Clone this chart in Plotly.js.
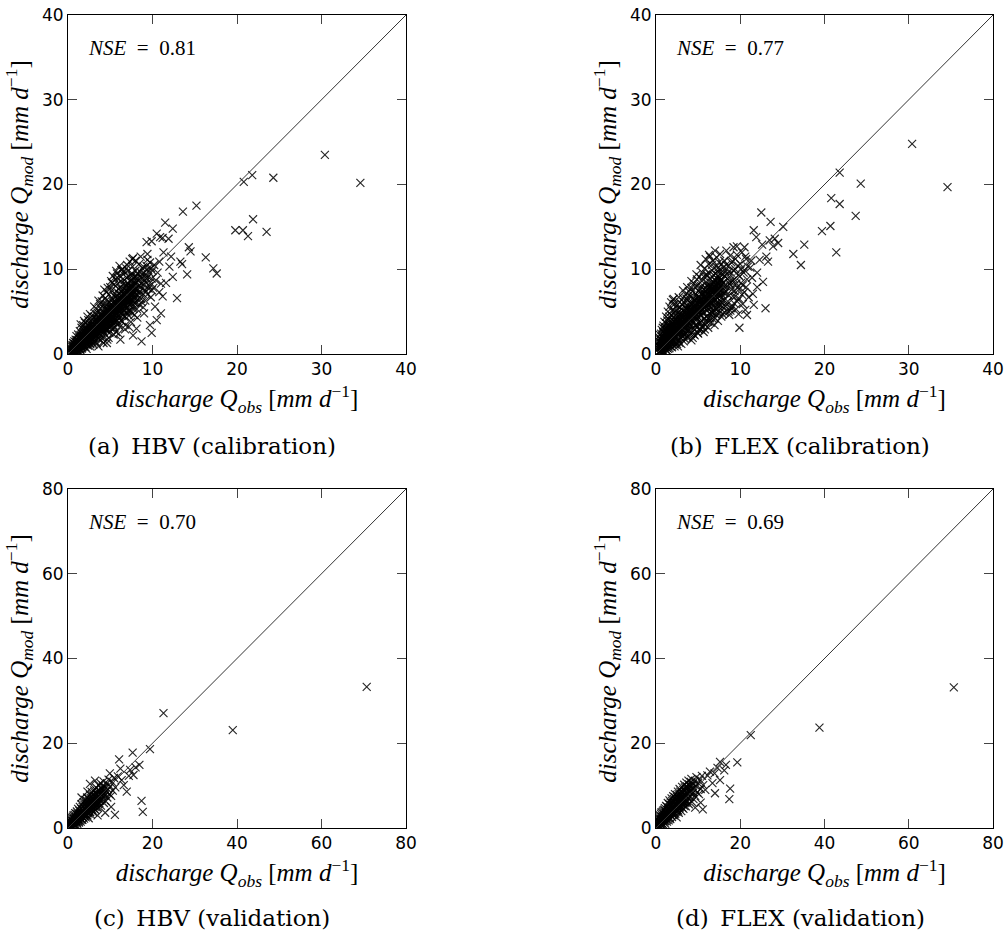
<!DOCTYPE html>
<html>
<head>
<meta charset="utf-8">
<script src="https://cdn.plot.ly/plotly-3.0.1.min.js"></script>
<style>
html,body{margin:0;padding:0;background:#fff;}
#chart{width:1008px;height:938px;}
</style>
</head>
<body>
<div id="chart"></div>
<script>
const hbvCal = [
[0.35,0.15],[0.42,0.4],[0.5,0.2],[0.55,0.65],[0.6,0.1],[0.65,0.45],[0.7,0.9],[0.75,0.3],[0.8,0.6],[0.85,1.15],[0.9,0.25],[0.95,0.8],[1.0,0.5],[1.05,1.3],[1.1,0.95],[1.15,0.35],[1.2,1.6],[1.25,0.7],[1.3,1.1],[1.35,2.0],[1.4,0.5],[1.45,1.45],[1.5,0.9],[1.55,1.8],[1.6,2.4],[1.65,0.65],[1.7,1.25],[1.75,2.1],[1.8,1.6],[1.85,0.9],[1.9,2.8],[1.95,1.35],
[2.0,1.9],[2.05,0.85],[2.1,2.5],[2.15,1.2],[2.2,3.2],[2.25,1.65],[2.3,2.2],[2.35,1.0],[2.4,2.85],[2.45,1.45],[2.5,3.6],[2.55,1.9],[2.6,2.4],[2.65,1.15],[2.7,3.1],[2.75,1.7],[2.8,2.1],[2.85,4.1],[2.9,1.35],[2.95,2.65],
[3.0,3.3],[3.05,1.9],[3.1,2.4],[3.15,4.4],[3.2,1.5],[3.25,2.9],[3.3,3.7],[3.35,2.15],[3.4,1.25],[3.45,3.1],[3.5,4.9],[3.55,2.6],[3.6,1.8],[3.65,3.5],[3.7,4.2],[3.75,2.3],[3.8,2.95],[3.85,5.4],[3.9,1.6],[3.95,3.8],
[4.0,2.7],[4.05,4.5],[4.1,3.3],[4.15,2.0],[4.2,5.8],[4.25,3.0],[4.3,3.9],[4.35,2.4],[4.4,4.8],[4.45,3.5],[4.5,6.3],[4.55,2.8],[4.6,4.2],[4.65,1.7],[4.7,5.2],[4.75,3.2],[4.8,3.8],[4.85,7.0],[4.9,2.5],[4.95,4.6],
[5.0,5.6],[5.05,3.4],[5.1,4.0],[5.15,7.5],[5.2,2.9],[5.25,4.9],[5.3,6.1],[5.35,3.7],[5.4,4.4],[5.45,8.2],[5.5,3.1],[5.55,5.3],[5.6,6.7],[5.65,4.1],[5.7,2.6],[5.75,5.8],[5.8,4.7],[5.85,9.0],[5.9,3.6],[5.95,6.3],
[6.0,5.0],[6.05,7.1],[6.1,4.3],[6.15,3.2],[6.2,5.6],[6.25,8.6],[6.3,6.5],[6.35,4.8],[6.4,3.8],[6.45,7.6],[6.5,5.3],[6.55,9.4],[6.6,6.0],[6.65,4.4],[6.7,7.0],[6.75,2.9],[6.8,5.8],[6.85,8.2],[6.9,6.6],[6.95,4.9],
[7.0,7.4],[7.05,5.5],[7.1,9.8],[7.15,6.2],[7.2,4.5],[7.25,8.0],[7.3,6.8],[7.35,5.1],[7.4,7.7],[7.45,3.8],[7.5,8.7],[7.55,6.0],[7.6,7.2],[7.65,10.3],[7.7,5.6],[7.75,8.2],[7.8,6.6],[7.85,4.6],[7.9,9.1],[7.95,7.0],
[8.0,6.1],[8.05,8.4],[8.1,7.5],[8.15,5.3],[8.2,9.5],[8.3,6.9],[8.35,8.0],[8.4,10.6],[8.45,5.8],[8.5,7.4],[8.6,9.0],[8.65,6.5],[8.7,8.3],[8.8,10.1],[8.85,7.1],[8.9,5.5],[8.95,8.8],
[9.0,9.6],[9.1,7.6],[9.15,6.3],[9.2,8.5],[9.3,10.4],[9.4,7.0],[9.5,9.1],[9.6,8.0],[9.7,10.8],[9.8,6.7],[9.9,8.9],[10.0,9.8],[10.1,7.8],[10.2,10.5],[10.4,8.7],[10.6,9.6],[10.8,10.9],[11.0,8.3],
[0.45,0.9],[0.6,1.3],[0.75,1.5],[0.9,1.7],[1.0,2.1],[1.1,0.15],[1.2,2.3],[1.3,0.3],[1.4,2.7],[1.5,0.55],[1.6,3.1],[1.7,0.8],[1.8,3.4],[2.0,3.7],[2.2,0.6],[2.4,4.0],[2.6,0.9],[2.8,4.5],[3.0,1.1],[3.2,4.8],[3.4,5.3],[3.6,0.9],[3.8,5.9],[4.0,6.2],[4.2,1.3],[4.4,6.6],[4.6,7.3],[4.8,1.9],[5.0,7.9],[5.2,8.4],[5.4,2.3],[5.6,8.8],[5.8,9.5],[6.0,2.4],[6.2,9.1],[6.4,10.0],[6.6,9.7],[6.8,3.4],[7.0,10.5],[7.2,3.2],[7.6,11.2],[8.0,11.0],[8.2,4.3],[8.6,11.5],[9.0,4.8],[9.4,11.8],
[1.25,1.85],[1.55,1.05],[1.85,2.3],[2.15,2.75],[2.45,2.05],[2.75,3.45],[3.05,2.75],[3.35,4.1],[3.65,3.0],[3.95,4.7],[4.25,4.2],[4.55,5.4],[4.85,4.1],[5.15,5.9],[5.45,5.0],[5.75,6.9],[6.05,6.0],[6.35,7.3],[6.65,6.4],[6.95,8.0],[7.25,7.2],[7.55,9.2],[7.85,7.9],[8.15,8.9],[8.45,8.1],[8.75,9.4],
[30.4,23.5],[34.6,20.2],[24.3,20.8],[20.8,20.3],[21.8,21.1],[21.9,15.9],[19.8,14.6],[20.7,14.6],[21.3,13.9],[23.5,14.4],[16.3,11.4],[17.2,10.1],[17.6,9.5],[15.2,17.5],[13.6,16.8],[11.5,15.5],[12.4,14.8],[11.9,13.6],[10.5,14.2],[9.9,13.3],[14.3,12.6],[14.5,12.1],[13.3,10.9],[13.5,10.6],[14.1,9.4],[12.4,9.1],[12.9,6.6],[11.2,6.8],[11.0,4.8],[10.5,4.0],[9.7,3.4],[9.9,2.5],[8.7,1.5],[8.1,3.0],[7.7,2.2],[6.2,1.7],[4.6,1.3],[10.9,13.8],[11.3,12.0],[12.0,10.3],[11.6,8.4],[10.3,5.6],[9.4,11.1],[7.7,11.3],[5.7,9.8],[12.2,11.5],[10.8,7.3],[9.3,13.2],[11.2,13.7]
];
const hbvCalDense = [
[0.33,0.55],[0.48,0.05],[0.52,1.05],[0.58,0.35],[0.63,0.82],[0.68,0.18],[0.72,1.22],[0.78,0.72],[0.83,0.12],[0.88,0.95],[0.93,1.45],[0.97,0.42],[1.03,0.78],[1.08,1.62],[1.13,1.12],[1.17,0.58],[1.22,1.38],[1.28,0.92],[1.33,1.72],[1.37,0.68],[1.42,1.18],[1.47,2.22],[1.52,1.32],[1.57,0.78],[1.62,1.68],[1.67,2.05],[1.72,1.02],[1.77,1.48],[1.82,2.62],[1.87,1.88],[1.92,1.15],[1.97,2.12],
[2.03,1.42],[2.08,2.35],[2.13,1.78],[2.18,2.95],[2.23,1.28],[2.28,2.55],[2.33,1.92],[2.38,3.35],[2.43,2.38],[2.48,1.62],[2.53,2.78],[2.58,3.25],[2.63,2.02],[2.68,2.62],[2.73,1.48],[2.78,3.02],[2.83,2.28],[2.88,3.72],[2.93,2.82],[2.98,1.95],
[3.03,2.38],[3.08,3.52],[3.13,2.92],[3.18,1.98],[3.23,3.22],[3.28,2.52],[3.33,4.02],[3.38,3.12],[3.43,2.28],[3.48,3.78],[3.53,2.92],[3.58,4.42],[3.63,2.48],[3.68,3.32],[3.73,2.08],[3.78,4.02],[3.83,3.42],[3.88,2.62],[3.93,4.52],[3.98,3.18],
[4.03,3.72],[4.08,2.92],[4.13,4.82],[4.18,3.48],[4.23,2.62],[4.28,4.42],[4.33,5.32],[4.38,3.22],[4.43,4.02],[4.48,2.98],[4.53,4.92],[4.58,3.72],[4.63,5.82],[4.68,4.32],[4.73,2.92],[4.78,5.02],[4.83,3.52],[4.88,6.12],[4.93,4.22],[4.98,3.22],
[5.03,4.62],[5.08,5.32],[5.13,3.82],[5.18,6.52],[5.23,4.32],[5.28,5.62],[5.33,3.42],[5.38,4.92],[5.43,6.92],[5.48,4.12],[5.53,5.52],[5.58,3.72],[5.63,6.22],[5.68,4.82],[5.73,7.42],[5.78,5.22],[5.83,3.92],[5.88,6.52],[5.93,5.12],[5.98,7.72],
[6.03,5.52],[6.08,4.62],[6.13,6.62],[6.18,7.82],[6.23,5.12],[6.28,6.02],[6.33,3.92],[6.38,6.92],[6.43,5.62],[6.48,8.22],[6.53,4.62],[6.58,7.22],[6.63,5.82],[6.68,8.72],[6.73,6.32],[6.78,4.42],[6.83,7.52],[6.88,5.42],[6.93,9.02],[6.98,6.22],
[7.03,6.72],[7.08,8.32],[7.13,5.02],[7.18,7.62],[7.23,9.22],[7.28,5.82],[7.33,7.02],[7.38,8.62],[7.43,6.42],[7.48,4.92],[7.53,7.92],[7.58,9.52],[7.63,6.32],[7.68,7.52],[7.73,5.32],[7.78,8.92],[7.83,7.22],[7.88,6.02],[7.93,8.32],[7.98,9.82],
[8.03,7.72],[8.13,9.12],[8.23,6.42],[8.33,8.62],[8.43,7.22],[8.53,9.72],[8.63,7.92],[8.73,6.12],[8.83,8.92],[8.93,10.32],[9.03,8.12],[9.13,9.32],[9.23,7.32],[9.33,8.92],[9.43,10.02],[9.53,7.72],[9.63,9.62],[9.73,8.42],[9.83,10.12],[9.93,7.52],
[3.1,5.6],[3.6,6.3],[4.1,6.9],[4.3,7.6],[4.7,7.8],[5.1,8.6],[5.3,9.2],[5.9,8.3],[6.3,9.9],[6.1,10.4],[6.9,10.1],[7.3,10.9],[2.6,4.7],[2.3,4.4],[1.9,3.9],[1.5,3.5]
];
const hbvCalCore = [
[0.4,0.62],[0.56,0.48],[0.62,0.98],[0.71,0.58],[0.77,1.02],[0.86,0.48],[0.91,1.12],[0.99,1.28],[1.06,0.62],[1.11,1.42],[1.19,0.88],[1.24,1.58],[1.31,1.32],[1.39,0.98],[1.44,1.78],[1.51,1.18],[1.58,2.08],[1.64,1.42],[1.69,1.82],[1.76,1.22],[1.81,2.02],[1.88,1.42],[1.94,2.42],[2.02,1.68],[2.09,2.12],[2.16,1.52],[2.21,2.42],[2.27,2.02],[2.34,2.72],[2.41,1.82],[2.47,2.52],[2.54,2.18],[2.61,2.92],[2.67,1.98],[2.74,2.72],[2.81,2.48],[2.87,3.22],[2.94,2.32],[3.01,2.98],[3.09,2.62],[3.16,3.42],[3.22,2.72],[3.29,3.32],[3.36,2.72],[3.42,3.72],[3.49,3.22],[3.56,4.12],[3.62,3.42],[3.69,2.82],[3.76,3.62],[3.82,4.32],[3.89,3.12],[3.96,4.02],[4.04,3.22],[4.11,4.22],[4.19,3.82],[4.26,4.82],[4.34,3.62],[4.41,4.42],[4.49,3.92],[4.57,5.12],[4.64,3.52],[4.72,4.62],[4.79,4.12],[4.87,5.42],[4.94,3.92],[5.02,5.02],[5.09,4.42],[5.17,5.52],[5.24,4.02],[5.32,5.22],[5.39,4.72],[5.47,5.92],[5.54,4.52],[5.62,5.42],[5.69,6.02],[5.77,4.92],[5.84,5.92],[5.92,4.52],[5.99,5.72],[6.07,6.42],[6.14,5.32],[6.22,6.22],[6.29,5.52],[6.37,6.72],[6.44,5.22],[6.52,6.32],[6.59,7.02],[6.67,5.62],[6.74,6.82],[6.82,6.12],[6.89,7.22],[6.97,5.82],[7.04,6.42],[7.12,7.32],[7.19,6.52],[7.27,7.72],[7.34,6.22],[7.42,7.22],[7.49,8.02],[7.57,6.82],[7.64,7.92],[7.72,7.02],[7.79,8.42],[7.87,6.72],[7.94,7.62]
];

const flexCal = [
[0.3,0.2],[0.4,0.8],[0.5,0.4],[0.55,1.4],[0.6,0.1],[0.65,0.9],[0.7,2.0],[0.75,0.5],[0.8,1.3],[0.85,2.6],[0.9,0.3],[0.95,1.8],[1.0,0.8],[1.05,3.0],[1.1,1.4],[1.15,0.5],[1.2,2.3],[1.25,3.6],[1.3,1.0],[1.35,1.9],[1.4,2.9],[1.45,0.6],[1.5,4.1],[1.55,1.5],[1.6,2.5],[1.65,3.4],[1.7,0.9],[1.75,2.0],[1.8,4.6],[1.85,1.2],[1.9,3.0],[1.95,2.3],
[2.0,3.9],[2.05,1.5],[2.1,5.2],[2.15,2.6],[2.2,0.9],[2.25,3.4],[2.3,4.5],[2.35,1.9],[2.4,2.9],[2.45,5.7],[2.5,1.2],[2.55,3.8],[2.6,2.3],[2.65,4.9],[2.7,1.6],[2.75,3.2],[2.8,6.1],[2.85,2.6],[2.9,4.2],[2.95,1.9],
[3.0,5.3],[3.05,3.0],[3.1,2.1],[3.15,4.6],[3.2,6.6],[3.25,3.6],[3.3,1.5],[3.35,5.0],[3.4,2.6],[3.45,4.1],[3.5,7.0],[3.55,3.2],[3.6,5.7],[3.65,2.0],[3.7,4.5],[3.75,6.3],[3.8,3.7],[3.85,2.8],[3.9,7.4],[3.95,5.1],
[4.0,4.0],[4.05,6.0],[4.1,2.4],[4.15,3.3],[4.2,7.8],[4.25,5.2],[4.3,4.4],[4.35,1.9],[4.4,6.6],[4.45,3.7],[4.5,8.3],[4.55,5.6],[4.6,2.9],[4.65,4.8],[4.7,7.1],[4.75,3.4],[4.8,6.1],[4.85,8.8],[4.9,4.2],[4.95,2.5],
[5.0,5.4],[5.05,7.4],[5.1,3.6],[5.15,9.1],[5.2,6.3],[5.25,4.6],[5.3,2.9],[5.35,8.0],[5.4,5.8],[5.45,3.9],[5.5,9.6],[5.55,6.9],[5.6,4.9],[5.65,2.6],[5.7,7.6],[5.75,5.4],[5.8,10.1],[5.85,3.4],[5.9,6.4],[5.95,8.5],
[6.0,4.4],[6.05,7.0],[6.1,9.2],[6.15,5.8],[6.2,3.1],[6.25,10.6],[6.3,7.9],[6.35,4.8],[6.4,6.3],[6.45,8.8],[6.5,3.7],[6.55,5.5],[6.6,9.9],[6.65,7.3],[6.7,4.2],[6.75,11.0],[6.8,6.7],[6.85,8.4],[6.9,5.1],[6.95,3.4],
[7.0,7.8],[7.05,9.5],[7.1,5.9],[7.15,4.6],[7.2,11.4],[7.25,8.5],[7.3,6.6],[7.35,3.9],[7.4,10.2],[7.45,7.2],[7.5,5.2],[7.55,9.0],[7.6,11.8],[7.65,6.2],[7.7,8.0],[7.75,4.4],[7.8,10.6],[7.85,7.0],[7.9,5.6],[7.95,9.4],
[8.0,8.4],[8.05,6.4],[8.1,11.0],[8.15,4.9],[8.2,9.8],[8.3,7.4],[8.35,12.2],[8.4,5.8],[8.5,8.9],[8.6,10.4],[8.65,6.9],[8.7,4.6],[8.8,11.6],[8.85,8.1],[8.9,9.6],[8.95,5.4],
[9.0,7.6],[9.1,10.9],[9.2,12.6],[9.25,6.0],[9.3,8.8],[9.4,10.0],[9.5,5.3],[9.6,11.7],[9.7,7.9],[9.8,9.3],[9.9,6.5],[10.0,10.6],[10.1,8.4],[10.2,12.0],[10.3,5.9],[10.4,9.6],[10.5,7.3],[10.7,11.2],[10.8,8.8],[11.0,6.7],[11.2,10.2],[11.4,9.0],
[0.45,1.9],[0.6,2.4],[0.8,3.1],[1.0,3.8],[1.2,4.4],[1.4,5.0],[1.6,5.6],[1.8,6.1],[2.0,6.4],[0.7,0.15],[1.0,0.2],[1.3,0.4],[1.6,0.7],[1.9,0.8],[2.3,1.1],[2.6,0.9],[3.0,1.2],[3.4,1.8],[3.8,2.0],[4.2,1.6],[4.6,2.2],[5.0,2.4],[5.4,3.2],[5.8,2.9],[6.2,3.8],[6.6,4.9],[7.0,4.2],[7.4,5.6],[7.8,6.1],[8.2,7.2],[8.6,5.0],[9.0,5.6],[9.4,6.8],[9.8,4.7],[10.2,7.0],
[1.15,1.15],[1.45,1.7],[1.75,1.45],[2.05,2.2],[2.35,2.6],[2.65,3.0],[2.95,3.4],[3.25,2.4],[3.55,4.0],[3.85,4.3],[4.15,4.8],[4.45,4.4],[4.75,5.2],[5.05,5.0],[5.35,6.0],[5.65,5.9],[5.95,6.6],[6.25,6.2],[6.55,7.0],[6.85,7.4],[7.15,7.4],[7.45,8.2],[7.75,8.8],[8.05,8.0],[8.45,9.4],[8.75,8.6],[2.2,5.9],[2.7,6.7],[3.2,7.5],[3.7,7.9],[4.2,8.6],[4.8,9.4],[5.3,10.5],[5.9,11.2],[6.4,11.5],[7.0,12.2],
[30.4,24.8],[34.6,19.7],[21.8,21.4],[24.3,20.1],[20.8,18.4],[21.8,17.7],[23.7,16.3],[19.7,14.5],[20.7,15.1],[21.4,12.0],[17.6,12.9],[16.3,11.8],[17.2,10.5],[12.5,16.7],[13.6,15.6],[15.1,15.0],[11.6,14.6],[11.9,13.8],[14.1,13.6],[14.5,13.1],[13.9,12.7],[13.1,11.5],[12.3,11.1],[13.3,10.9],[12.7,8.5],[12.0,7.9],[13.0,5.4],[11.6,5.8],[10.8,4.6],[9.9,3.1],[6.3,11.7],[2.1,6.5],[9.6,12.7],[10.5,12.6],[11.3,11.0],[12.0,9.6],[11.5,7.1],[10.6,5.2],[12.6,12.9],[13.5,13.4],[10.6,11.5]
];
const flexCalDense = [
[0.33,0.62],[0.38,1.45],[0.43,0.28],[0.48,2.25],[0.53,0.92],[0.58,1.72],[0.63,0.45],[0.68,2.85],[0.73,1.12],[0.78,2.05],[0.83,0.62],[0.88,3.35],[0.93,1.52],[0.98,2.42],[1.03,0.95],[1.08,1.95],[1.13,3.15],[1.18,1.35],[1.23,2.72],[1.28,0.72],[1.33,3.95],[1.38,1.62],[1.43,2.42],[1.48,3.32],[1.53,1.05],[1.58,4.42],[1.63,1.95],[1.68,2.92],[1.73,3.82],[1.78,1.35],[1.83,2.55],[1.88,5.12],[1.93,1.72],[1.98,3.42],
[2.03,2.62],[2.08,4.32],[2.13,1.92],[2.18,3.02],[2.23,4.92],[2.28,2.22],[2.33,3.72],[2.38,1.42],[2.43,4.12],[2.48,2.82],[2.53,5.32],[2.58,1.82],[2.63,3.52],[2.68,2.52],[2.73,4.62],[2.78,1.32],[2.83,3.92],[2.88,5.52],[2.93,2.92],[2.98,4.52],
[3.03,3.82],[3.08,2.52],[3.13,5.82],[3.18,3.32],[3.23,4.32],[3.28,2.12],[3.33,6.12],[3.38,3.72],[3.43,2.92],[3.48,5.42],[3.53,4.62],[3.58,2.42],[3.63,6.52],[3.68,3.42],[3.73,5.22],[3.78,2.72],[3.83,4.82],[3.88,6.92],[3.93,3.32],[3.98,4.42],
[4.03,5.22],[4.08,3.62],[4.13,6.82],[4.18,4.62],[4.23,2.82],[4.28,5.82],[4.33,7.42],[4.38,3.92],[4.43,5.02],[4.48,2.32],[4.53,6.42],[4.58,4.32],[4.63,7.92],[4.68,3.42],[4.73,5.62],[4.78,4.72],[4.83,6.92],[4.88,3.12],[4.93,5.32],[4.98,8.12],
[5.03,4.32],[5.08,6.12],[5.13,2.82],[5.18,5.02],[5.23,7.72],[5.28,3.72],[5.33,6.52],[5.38,4.52],[5.43,8.62],[5.48,5.42],[5.53,3.32],[5.58,7.12],[5.63,5.82],[5.68,9.12],[5.73,4.22],[5.78,6.22],[5.83,7.82],[5.88,3.82],[5.93,5.62],[5.98,9.42],
[6.03,6.22],[6.08,5.12],[6.13,8.22],[6.18,4.22],[6.23,6.92],[6.28,9.52],[6.33,5.52],[6.38,7.62],[6.43,4.22],[6.48,6.52],[6.53,8.42],[6.58,5.02],[6.63,10.52],[6.68,6.02],[6.73,7.82],[6.78,4.82],[6.83,9.32],[6.88,6.32],[6.93,7.52],[6.98,5.42],
[7.03,8.72],[7.08,6.42],[7.13,10.32],[7.18,5.32],[7.23,7.42],[7.28,9.72],[7.33,5.92],[7.38,8.12],[7.43,6.82],[7.48,10.82],[7.53,4.82],[7.58,7.62],[7.63,8.72],[7.68,5.72],[7.73,9.92],[7.78,6.62],[7.83,8.32],[7.88,4.72],[7.93,7.82],[7.98,10.22],
[8.03,7.22],[8.13,9.22],[8.23,5.62],[8.33,10.52],[8.43,7.92],[8.53,6.22],[8.63,9.72],[8.73,8.32],[8.83,5.12],[8.93,10.82],[9.03,8.62],[9.13,6.82],[9.23,9.82],[9.33,7.42],[9.43,11.22],[9.53,8.32],[9.63,6.22],[9.73,10.42],[9.83,7.62],[9.93,9.12],[10.1,10.0],[10.3,8.1],[10.5,9.9],[10.7,7.9],[10.9,10.3]
];
const flexCalCore = [
[0.36,0.95],[0.44,1.25],[0.51,1.68],[0.57,0.72],[0.64,1.32],[0.71,1.62],[0.77,0.92],[0.84,1.78],[0.91,2.22],[0.97,1.18],[1.04,1.72],[1.11,2.52],[1.17,1.82],[1.24,2.12],[1.31,2.62],[1.37,1.32],[1.44,2.22],[1.51,3.02],[1.57,2.02],[1.64,2.72],[1.71,1.62],[1.77,3.22],[1.84,2.32],[1.91,3.62],[1.97,2.72],[2.04,3.22],[2.11,2.42],[2.17,3.82],[2.24,2.92],[2.31,4.02],[2.37,3.12],[2.44,3.52],[2.51,2.62],[2.57,4.32],[2.64,3.22],[2.71,3.82],[2.77,2.82],[2.84,4.72],[2.91,3.62],[2.97,4.12],[3.04,3.42],[3.11,4.32],[3.17,3.82],[3.24,5.12],[3.31,3.92],[3.37,4.52],[3.44,3.52],[3.51,4.92],[3.57,4.22],[3.64,5.32],[3.71,3.82],[3.77,4.62],[3.84,5.62],[3.91,4.22],[3.97,5.02],[4.04,4.52],[4.11,5.62],[4.17,4.12],[4.24,5.42],[4.31,4.82],[4.37,6.02],[4.44,4.52],[4.51,5.32],[4.57,6.32],[4.64,4.92],[4.71,5.82],[4.77,4.32],[4.84,5.92],[4.91,6.62],[4.97,5.12],[5.04,6.22],[5.11,4.82],[5.17,6.72],[5.24,5.52],[5.31,6.12],[5.37,7.12],[5.44,5.22],[5.51,6.42],[5.57,5.62],[5.64,7.22],[5.71,6.02],[5.77,6.82],[5.84,5.62],[5.91,7.42],[5.97,6.22],[6.04,7.62],[6.11,6.62],[6.17,7.22],[6.24,5.82],[6.31,7.82],[6.37,6.92],[6.44,7.42],[6.51,6.02],[6.57,8.02],[6.64,6.72],[6.71,7.52],[6.77,8.52],[6.84,6.52],[6.91,7.92],[6.97,8.72],[7.04,7.22],[7.11,8.22],[7.17,6.72],[7.24,8.92],[7.31,7.72],[7.37,9.22],[7.44,7.62],[7.51,8.42],[7.57,6.92],[7.64,9.52],[7.71,7.42],[7.77,8.62]
];

const hbvVal = [
[0.2,0.3],[0.3,0.9],[0.4,0.2],[0.5,1.4],[0.6,0.6],[0.7,1.9],[0.8,0.4],[0.9,1.1],[1.0,2.4],[1.1,0.7],[1.2,1.6],[1.3,3.0],[1.4,0.9],[1.5,2.1],[1.6,1.3],[1.7,3.5],[1.8,0.8],[1.9,2.6],
[2.0,1.6],[2.1,3.9],[2.2,1.0],[2.3,2.8],[2.4,4.5],[2.5,2.0],[2.6,1.3],[2.7,3.3],[2.8,5.0],[2.9,2.4],[3.0,1.5],[3.1,3.8],[3.2,5.6],[3.3,2.7],[3.4,1.9],[3.5,4.3],[3.6,3.1],[3.7,6.1],[3.8,2.2],[3.9,4.8],
[4.0,3.5],[4.1,6.6],[4.2,2.5],[4.3,5.2],[4.4,4.0],[4.5,7.2],[4.6,3.0],[4.7,5.7],[4.8,4.5],[4.9,2.3],[5.0,6.4],[5.1,3.8],[5.2,7.8],[5.3,5.0],[5.4,3.2],[5.5,6.0],[5.6,8.5],[5.7,4.4],[5.8,5.5],[5.9,7.0],
[6.0,3.7],[6.1,6.6],[6.2,8.9],[6.3,5.0],[6.4,7.5],[6.5,4.2],[6.6,6.0],[6.7,9.5],[6.8,5.4],[6.9,8.0],[7.0,6.9],[7.1,4.8],[7.2,10.1],[7.3,7.4],[7.4,5.9],[7.5,8.7],[7.6,6.4],[7.7,10.6],[7.8,5.3],[7.9,7.9],
[8.0,9.2],[8.1,6.8],[8.3,8.3],[8.4,11.0],[8.5,5.9],[8.6,7.6],[8.8,9.7],[8.9,6.4],[9.0,8.6],[9.2,10.5],[9.3,7.2],[9.5,9.1],[9.6,11.4],[9.8,8.0],[10.0,9.8],[10.2,7.6],[10.4,10.9],[10.6,8.8],[10.9,11.8],[11.2,9.6],
[70.7,33.3],[39.0,23.1],[22.6,27.1],[19.4,18.6],[15.3,17.8],[12.1,16.2],[16.9,14.9],[15.5,12.5],[17.4,6.4],[17.7,3.8],[11.1,3.1],[13.9,8.6],[9.9,12.9],[5.2,10.4],[12.7,11.3],[14.7,13.7],[11.8,12.2],[13.2,10.1],[12.4,14.0],[7.0,3.0],[10.2,5.0],[8.8,3.6],[4.6,8.6],[3.2,7.2],[6.4,11.2],[14.4,12.3],[16.0,14.3]
];
const hbvValDense = [
[0.15,0.6],[0.25,0.15],[0.35,1.1],[0.45,0.5],[0.55,1.6],[0.65,0.25],[0.75,1.3],[0.85,2.1],[0.95,0.6],[1.05,1.5],[1.15,2.7],[1.25,1.0],[1.35,2.2],[1.45,1.5],[1.55,3.1],[1.65,0.6],[1.75,2.3],[1.85,1.6],[1.95,3.3],[2.05,2.3],[2.15,1.3],[2.25,3.4],[2.35,2.0],[2.45,3.0],[2.55,1.6],[2.65,4.1],[2.75,2.6],[2.85,3.6],[2.95,1.9],[3.05,2.9],[3.15,4.5],[3.25,2.0],[3.35,3.5],[3.45,5.0],[3.55,2.6],[3.65,4.0],[3.75,3.2],[3.85,5.5],[3.95,2.8],[4.05,4.4],[4.15,3.3],[4.25,5.8],[4.35,3.0],[4.45,4.8],[4.55,6.4],[4.65,3.8],[4.75,5.2],[4.85,3.4],[4.95,6.9],[5.05,4.7],[5.15,5.6],[5.25,3.8],[5.35,7.1],[5.45,5.3],[5.55,4.2],[5.65,6.5],[5.75,7.8],[5.85,4.8],[5.95,6.0],[6.05,5.4],[6.15,7.6],[6.25,4.5],[6.35,6.3],[6.45,8.2],[6.55,5.6],[6.65,7.0],[6.75,4.9],[6.85,8.7],[6.95,6.3],[7.05,7.8],[7.15,5.6],[7.35,8.9],[7.45,6.8],[7.65,8.1],[7.85,9.4],[8.05,7.6],[8.25,10.0],[8.45,8.6],[8.65,9.2],[8.85,7.8]
];

const flexVal = [
[0.2,0.5],[0.3,1.2],[0.4,0.1],[0.5,1.8],[0.6,0.7],[0.7,2.5],[0.8,0.3],[0.9,1.4],[1.0,3.0],[1.1,0.8],[1.2,2.0],[1.3,3.7],[1.4,1.1],[1.5,2.6],[1.6,0.5],[1.7,4.1],[1.8,1.6],[1.9,3.2],
[2.0,2.2],[2.1,4.7],[2.2,1.0],[2.3,3.5],[2.4,5.2],[2.5,2.7],[2.6,1.5],[2.7,4.2],[2.8,5.9],[2.9,3.0],[3.0,1.8],[3.1,4.8],[3.2,6.5],[3.3,3.4],[3.4,2.1],[3.5,5.4],[3.6,3.9],[3.7,7.0],[3.8,2.6],[3.9,5.9],
[4.0,4.4],[4.1,7.5],[4.2,3.0],[4.3,6.1],[4.4,4.9],[4.5,8.0],[4.6,3.4],[4.7,6.7],[4.8,5.3],[4.9,2.5],[5.0,7.3],[5.1,4.3],[5.2,8.6],[5.3,5.9],[5.4,3.6],[5.5,6.9],[5.6,9.2],[5.7,4.9],[5.8,6.3],[5.9,7.9],
[6.0,4.0],[6.1,7.3],[6.2,9.7],[6.3,5.6],[6.4,8.4],[6.5,4.5],[6.6,6.8],[6.7,10.2],[6.8,5.9],[6.9,8.9],[7.0,7.6],[7.1,5.1],[7.2,10.7],[7.3,8.1],[7.4,6.3],[7.5,9.5],[7.6,7.0],[7.7,11.2],[7.8,5.6],[7.9,8.6],
[8.0,9.9],[8.1,7.3],[8.3,8.9],[8.4,11.6],[8.5,6.2],[8.6,8.1],[8.8,10.4],[8.9,6.8],[9.0,9.3],[9.2,11.1],[9.3,7.6],[9.5,9.9],[9.6,12.0],[9.8,8.4],[10.0,10.6],[10.2,8.0],[10.4,11.4],[10.6,9.2],[10.9,12.3],[11.2,10.1],
[70.7,33.2],[38.8,23.7],[22.5,21.9],[19.3,15.5],[16.6,14.9],[15.2,15.6],[17.6,9.3],[17.4,6.8],[14.0,8.2],[11.1,4.4],[15.2,11.3],[12.8,13.3],[13.9,12.9],[14.6,14.2],[12.2,12.4],[13.4,10.6],[11.7,9.0],[10.6,6.0],[16.2,13.6],[9.3,4.8]
];
const flexValDense = [
[0.15,0.9],[0.25,0.3],[0.35,1.6],[0.45,0.7],[0.55,2.2],[0.65,0.2],[0.75,1.6],[0.85,2.8],[0.95,0.9],[1.05,2.0],[1.15,3.4],[1.25,1.3],[1.35,2.7],[1.45,1.8],[1.55,3.8],[1.65,0.9],[1.75,2.8],[1.85,2.0],[1.95,4.3],[2.05,2.9],[2.15,1.6],[2.25,4.0],[2.35,2.3],[2.45,3.6],[2.55,1.9],[2.65,5.0],[2.75,3.2],[2.85,4.4],[2.95,2.2],[3.05,3.5],[3.15,5.6],[3.25,2.4],[3.35,4.2],[3.45,6.0],[3.55,3.0],[3.65,4.7],[3.75,3.6],[3.85,6.4],[3.95,3.2],[4.05,5.1],[4.15,3.8],[4.25,6.8],[4.35,3.3],[4.45,5.5],[4.55,7.2],[4.65,4.2],[4.75,6.0],[4.85,3.8],[4.95,7.8],[5.05,5.4],[5.15,6.4],[5.25,4.1],[5.35,8.0],[5.45,6.1],[5.55,4.6],[5.65,7.4],[5.75,8.6],[5.85,5.3],[5.95,6.8],[6.05,6.0],[6.15,8.4],[6.25,4.8],[6.35,7.0],[6.45,9.0],[6.55,6.2],[6.65,7.8],[6.75,5.2],[6.85,9.6],[6.95,7.0],[7.05,8.6],[7.15,6.0],[7.35,9.8],[7.45,7.4],[7.65,8.9],[7.85,10.3],[8.05,8.3],[8.25,10.9],[8.45,9.3],[8.65,10.0],[8.85,8.4]
];

const panelData = [hbvCal.concat(hbvCalDense, hbvCalCore), flexCal.concat(flexCalDense, flexCalCore),
                   hbvVal.concat(hbvValDense), flexVal.concat(flexValDense)];
const nseValues = ['0.81', '0.77', '0.70', '0.69'];
const captions = ['(a)\u2002HBV (calibration)', '(b)\u2002FLEX (calibration)', '(c)\u2002HBV (validation)', '(d)\u2002FLEX (validation)'];
const axisMax = [40, 40, 80, 80];
const tickStep = [10, 10, 20, 20];

// ---- layout geometry (px) ----
const W = 1008, H = 938;
const plotBoxes = [
  {l: 68, r: 406, t: 15, b: 354},
  {l: 656, r: 993, t: 15, b: 354},
  {l: 68, r: 406, t: 489, b: 828},
  {l: 656, r: 993, t: 489, b: 828}
];
const captionPos = [[212, 446], [800, 446], [212, 918], [800, 918]];

const serif = 'Liberation Serif, Times New Roman, serif';
const traces = [];
const layout = {
  width: W, height: H,
  margin: {l: 0, r: 0, t: 0, b: 0},
  paper_bgcolor: '#fff', plot_bgcolor: '#fff',
  showlegend: false,
  annotations: []
};

panelData.forEach((pts, i) => {
  const sfx = i === 0 ? '' : String(i + 1);
  const xa = 'x' + sfx, ya = 'y' + sfx;
  traces.push({
    type: 'scatter', mode: 'markers', xaxis: xa, yaxis: ya,
    x: pts.map(p => p[0]), y: pts.map(p => p[1]),
    marker: {symbol: 'x-thin', size: 8, color: 'rgba(0,0,0,0.85)',
             line: {width: 1.15, color: 'rgba(0,0,0,0.85)'}},
    hoverinfo: 'x+y'
  });
  traces.push({
    type: 'scatter', mode: 'lines', xaxis: xa, yaxis: ya,
    x: [0, axisMax[i]], y: [0, axisMax[i]],
    line: {color: '#333', width: 1}, hoverinfo: 'skip'
  });
  const bx = plotBoxes[i];
  const common = {
    range: [0, axisMax[i]], dtick: tickStep[i], tick0: 0,
    ticks: 'inside', ticklen: 9, tickwidth: 1, tickcolor: '#444',
    mirror: 'allticks', showline: true, linecolor: '#000', linewidth: 1,
    showgrid: false, zeroline: false, fixedrange: true,
    tickfont: {family: 'DejaVu Sans, sans-serif', size: 17, color: '#000'}
  };
  layout['xaxis' + sfx] = Object.assign({}, common, {
    domain: [bx.l / W, bx.r / W], anchor: ya,
    title: {text: '<i>discharge Q<sub>obs</sub></i> [<i>mm d</i><sup>\u22121</sup>]',
            font: {family: serif, size: 25, color: '#000'}, standoff: 11}
  });
  layout['yaxis' + sfx] = Object.assign({}, common, {
    domain: [1 - bx.b / H, 1 - bx.t / H], anchor: xa,
    title: {text: '<i>discharge Q<sub>mod</sub></i> [<i>mm d</i><sup>\u22121</sup>]',
            font: {family: serif, size: 25, color: '#000'}, standoff: 6}
  });
  layout.annotations.push({
    xref: xa + ' domain', yref: ya + ' domain', x: 0.053, y: 0.903,
    xanchor: 'left', yanchor: 'middle', showarrow: false,
    text: '<i>NSE</i>\u2002=\u2002' + nseValues[i],
    font: {family: serif, size: 21, color: '#000'}
  });
  layout.annotations.push({
    xref: 'paper', yref: 'paper', x: captionPos[i][0] / W, y: 1 - captionPos[i][1] / H,
    xanchor: 'center', yanchor: 'middle', showarrow: false,
    text: captions[i],
    font: {family: 'DejaVu Serif, serif', size: 23, color: '#000'}
  });
});

Plotly.newPlot('chart', traces, layout, {displayModeBar: false, staticPlot: true});
</script>
</body>
</html>
